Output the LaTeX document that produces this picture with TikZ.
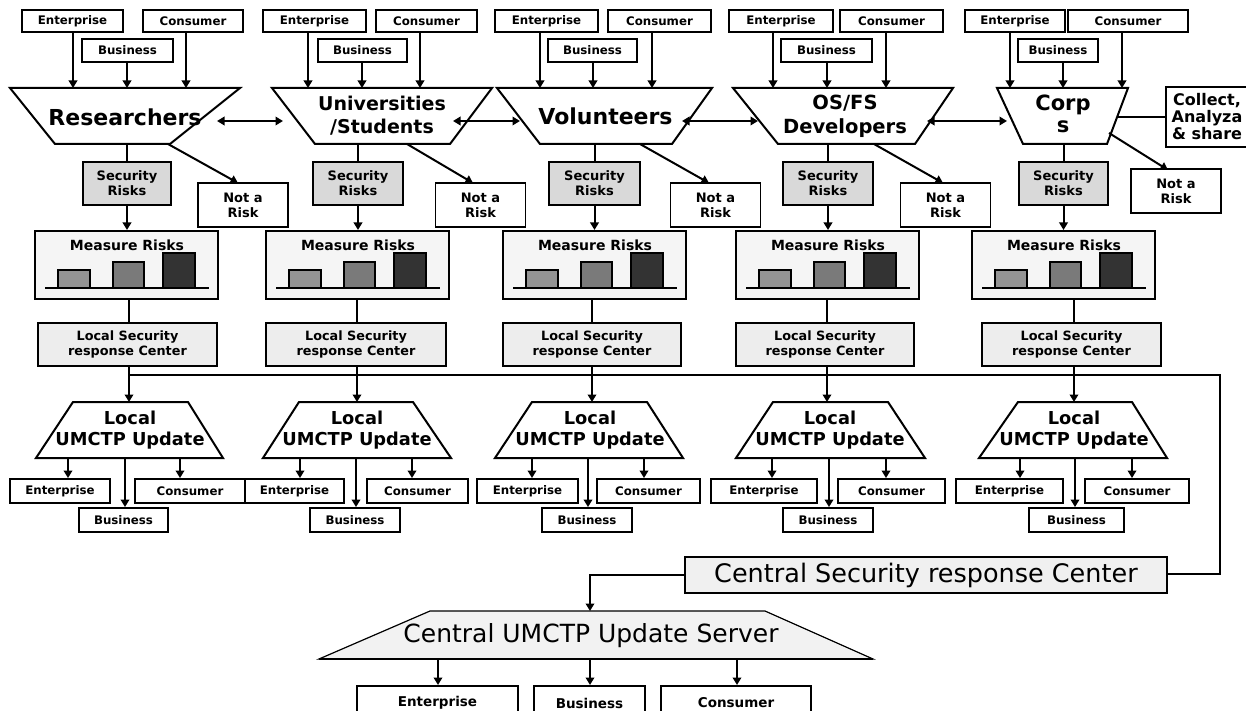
\documentclass[tikz,border=0pt]{standalone}
\usepackage{fontspec}
\setmainfont{DejaVu Sans}
\usetikzlibrary{arrows.meta,calc}
\tikzset{
 ln/.style={line width=2pt},
 bus/.style={line width=2.4pt},
 arr/.style={line width=2pt,-{Triangle[length=7.5pt,width=8.5pt]}},
 darr/.style={line width=2pt,{Triangle[length=7.5pt,width=8.5pt]}-{Triangle[length=7.5pt,width=8.5pt]}},
 ibox/.style={draw,line width=1.9pt,fill=white,inner sep=0pt,minimum height=22,font=\bfseries\fontsize{11.8}{12}\selectfont},
 trap/.style={draw,line width=2pt,fill=white,line join=miter},
 glab/.style={inner sep=0pt,align=center},
 srbox/.style={draw,line width=1.6pt,fill=black!15,inner sep=0pt,minimum height=43,align=center,font=\bfseries\fontsize{13}{15}\selectfont},
 nrbox/.style={draw,line width=1.7pt,fill=white,inner sep=0pt,minimum width=90,minimum height=44,align=center,font=\bfseries\fontsize{13}{15}\selectfont},
 mrbox/.style={draw,line width=2pt,fill=black!4,inner sep=0pt,minimum width=183,minimum height=68},
 mtext/.style={inner sep=0pt,font=\bfseries\fontsize{14}{16}\selectfont},
 barst/.style={draw,line width=1.3pt},
 lsbox/.style={draw,line width=1.7pt,fill=black!7,inner sep=0pt,minimum height=43,align=center,font=\bfseries\fontsize{12.8}{15}\selectfont},
 lulab/.style={inner sep=0pt,align=center,font=\bfseries\fontsize{17.8}{21}\selectfont},
 csbox/.style={draw,line width=1.7pt,fill=black!6,inner sep=0pt,font=\fontsize{25.5}{28}\selectfont},
 cbox/.style={draw,line width=2pt,fill=white,inner sep=0pt,minimum height=34,font=\bfseries\fontsize{13.5}{15}\selectfont},
}
\begin{document}
\begin{tikzpicture}[x=1pt,y=-1pt]
\useasboundingbox (0,0) rectangle (1246,711);
\fill[white] (0,0) rectangle (1246,711);

% ---------- top input boxes ----------
\foreach \i/\ec/\ew/\cc/\cw/\bc/\bw/\ea/\ca/\ba in {
 1/72.5/101/193/100/127.5/91/73/186/127,
 2/314.5/103/426.5/101/362.5/89/308/420/362,
 3/546.5/103/659.5/103/592.5/89/540/652/593,
 4/781/104/891.5/103/826.5/91/773/886/827,
 5/1015/100/1128/120/1058/80/1010/1122/1063}{
 \node[ibox,minimum width=\ew] (te\i) at (\ec,21) {Enterprise};
 \node[ibox,minimum width=\cw] (tc\i) at (\cc,21) {Consumer};
 \node[ibox,minimum width=\bw,minimum height=23] (tb\i) at (\bc,50.5) {Business};
 \coordinate (pe\i) at (\ea,88);
 \coordinate (pc\i) at (\ca,88);
 \coordinate (pb\i) at (\ba,88);
}

% ---------- top trapezoids ----------
\foreach \i/\a/\b/\c/\d in {1/10/240/170/55, 2/272/492/450/315, 3/497/712/672/540, 4/733/953/915/778, 5/997/1128/1107/1023}{
 \draw[trap] (\a,88) -- (\b,88) -- (\c,144) -- (\d,144) -- cycle;
}
\foreach \i in {1,...,5}{
 \draw[arr] (te\i.south -| pe\i) -- (pe\i);
 \draw[arr] (tc\i.south -| pc\i) -- (pc\i);
 \draw[arr] (tb\i.south -| pb\i) -- (pb\i);
}
\node[glab,font=\bfseries\fontsize{22}{24}\selectfont] (g1) at (125,117) {Researchers};
\node[glab,font=\bfseries\fontsize{19}{23}\selectfont] (g2) at (382,115.5) {Universities\\/Students};
\node[glab,font=\bfseries\fontsize{22}{24}\selectfont] (g3) at (605.5,116) {Volunteers};
\node[glab,font=\bfseries\fontsize{19.5}{24}\selectfont] (g4) at (845,116) {OS/FS\\Developers};
\node[glab,font=\bfseries\fontsize{21}{22}\selectfont] (g5) at (1063,114) {Corp\\s};

% double arrows between groups
\coordinate (d1a) at (217,121); \coordinate (d1b) at (283,121);
\coordinate (d2a) at (453,121); \coordinate (d2b) at (520,121);
\coordinate (d3a) at (682,121); \coordinate (d3b) at (758,121);
\coordinate (d4a) at (927,121); \coordinate (d4b) at (1007,121);
\foreach \i in {1,...,4}{ \draw[darr] (d\i a) -- (d\i b); }

% collect box
\node[draw,line width=1.7pt,fill=white,minimum width=96,minimum height=60,inner sep=0pt] (cl) at (1214,117) {};
\node[glab,font=\bfseries\fontsize{16}{17}\selectfont] (clt) at (1207,117) {Collect,\\Analyza\\\& share};
\coordinate (g5r) at (1117,117);
\draw[line width=1.6pt] (g5r) -- (cl.west);

% ---------- security risks / not a risk ----------
\coordinate (gbot) at (0,144);
\foreach \i/\sc/\sw/\nc/\ny/\fx/\fy/\tx/\ty in {
 1/127/88/243/205/168/144/238/183,
 2/358/90/480.5/205/407/144/473/183,
 3/594.5/91/715.5/205/640/144/709/183,
 4/828/90/945.5/205/874/144/943/183,
 5/1063.5/89/1176/191/1109/133/1168/170}{
 \node[srbox,minimum width=\sw] (sr\i) at (\sc,183.5) {Security\\Risks};
 \node[nrbox] (nr\i) at (\nc,\ny) {Not a\\Risk};
 \draw[ln] (sr\i.north) -- (sr\i.north |- gbot);
 \coordinate (nf\i) at (\fx,\fy);
 \coordinate (nt\i) at (\tx,\ty);
 \draw[arr] (nf\i) -- (nt\i);
}

% ---------- measure risks ----------
\foreach \i/\ml in {1/35,2/266,3/503,4/736,5/972}{
 \node[mrbox] (mr\i) at (\ml+91.5,265) {};
 \node[mtext] (mt\i) at (\ml+92,245) {Measure Risks};
 \draw[barst,fill=black!42] (\ml+23,270) rectangle (\ml+55,288);
 \draw[barst,fill=black!52] (\ml+78,262) rectangle (\ml+109,288);
 \draw[barst,fill=black!80] (\ml+128,253) rectangle (\ml+160,288);
 \draw[line width=1.3pt] (\ml+10,288) -- (\ml+174,288);
}
\foreach \i in {1,...,5}{ \draw[arr] (sr\i.south) -- (mr\i.north -| sr\i.south); }

% ---------- local security response centers ----------
\foreach \i/\lc/\lw/\vx/\tl/\tr/\br/\bl/\cx in {
 1/127.5/179/129/73/188/223/36/130,
 2/356/180/357/299/413/451/263/357,
 3/592/178/592/532/647/683/495/590,
 4/825/178/827/773/888/925/736/830,
 5/1071.5/179/1074/1018/1132/1167/979/1074}{
 \node[lsbox,minimum width=\lw] (ls\i) at (\lc,344.5) {Local Security\\response Center};
 \coordinate (lt\i) at (\vx,402);
 \draw[ln] (mr\i.south -| lt\i) -- (ls\i.north -| lt\i);
 \draw[trap] (\tl,402) -- (\tr,402) -- (\br,458) -- (\bl,458) -- cycle;
 \node[lulab] (lu\i) at (\cx,430) {Local\\UMCTP Update};
}

% bus line to central center
\coordinate (bus1) at (129,375);
\coordinate (busR) at (1220,375);
\coordinate (busD) at (1220,574);
\node[csbox,minimum width=482,minimum height=36] (cs) at (926,575) {Central Security response Center};
\draw[bus,line join=miter] (bus1) -- (busR) -- (busD) -- (cs.east |- busD);
\foreach \i in {1,...,5}{ \draw[arr] (ls\i.south -| lt\i) -- (lt\i); }

% ---------- local outputs ----------
\foreach \i/\ea/\ec/\ew/\ba/\bc/\bw/\ca/\cc/\cw in {
 1/68/60/100/125/123.5/89/180/190/110,
 2/300/294.5/99/356/355/90/412/417.5/101,
 3/532/527.5/101/588/587/90/644/648.5/103,
 4/772/764/106/829/828/90/886/891.5/107,
 5/1020/1009.5/107/1075/1076.5/95/1132/1137/104}{
 \node[ibox,minimum width=\ew,minimum height=24] (oe\i) at (\ec,491) {Enterprise};
 \node[ibox,minimum width=\cw,minimum height=24] (oc\i) at (\cc,491) {Consumer};
 \node[ibox,minimum width=\bw,minimum height=24] (ob\i) at (\bc,520) {Business};
 \coordinate (qe\i) at (\ea,458);
 \coordinate (qb\i) at (\ba,458);
 \coordinate (qc\i) at (\ca,458);
 \draw[arr] (qe\i) -- (oe\i.north -| qe\i);
 \draw[arr] (qb\i) -- (ob\i.north -| qb\i);
 \draw[arr] (qc\i) -- (oc\i.north -| qc\i);
}

% ---------- central update server ----------
\draw[line width=1.2pt,fill=black!5,line join=miter] (430,611) -- (765,611) -- (873,659) -- (319,659) -- cycle;
\draw[line width=2.2pt] (319,659) -- (873,659);
\node[inner sep=0pt,font=\fontsize{25}{28}\selectfont] (cu) at (591,636) {Central UMCTP Update Server};
\coordinate (cuTop) at (590,611);
\draw[arr,line join=miter] (cs.west) -| (cuTop);
\node[cbox,minimum width=161] (ce) at (437.5,703) {Enterprise};
\node[cbox,minimum width=111] (cb) at (589.5,703) {Business};
\node[cbox,minimum width=150] (cc) at (736,703) {Consumer};
\coordinate (ra) at (438,659);
\coordinate (rb) at (590,659);
\coordinate (rc) at (737,659);
\draw[arr] (ra) -- (ce.north -| ra);
\draw[arr] (rb) -- (cb.north -| rb);
\draw[arr] (rc) -- (cc.north -| rc);
\end{tikzpicture}
\end{document}
